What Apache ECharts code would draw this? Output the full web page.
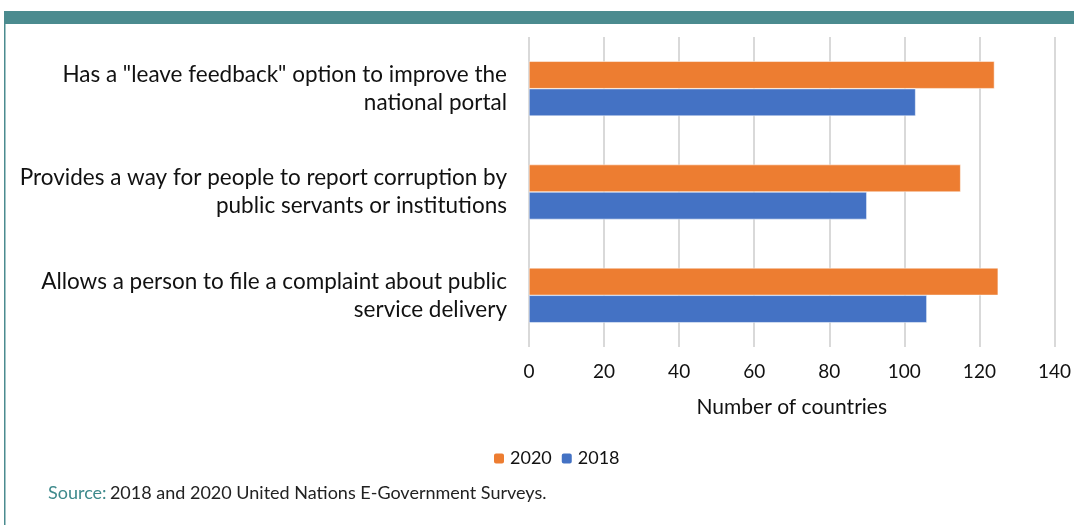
<!DOCTYPE html>
<html style="height: 100%">
<head>
	<title></title>
	<script type="text/javascript" src="https://cdn.jsdelivr.net/npm/echarts@6/dist/echarts.min.js"></script>
</head>
<body style="height: 100%; margin: 0; background: #fff">
<div id="container" style="width: 1074px; height: 525px"></div>
<script type="text/javascript">
	// bottom to top, as echarts draws a category y axis
	var categories = [
		'Allows a person to file a complaint about public\nservice delivery',
		'Provides a way for people to report corruption by\npublic servants or institutions',
		'Has a "leave feedback" option to improve the\nnational portal'
	];
	var values2018 = [106, 90, 103];
	var values2020 = [125, 115, 124];
	var xTicks = [0, 140, 20];   // min, max, step

	var font = 'Lato, "Open Sans", sans-serif';
	var dom = document.getElementById("container");
	var myChart = echarts.init(dom);
	var option = {
		animation: false,
		textStyle: { fontFamily: font },
		graphic: [
			{ type: 'rect', left: 4, top: 11, shape: { width: 1070, height: 13 }, style: { fill: '#4b8b8f' } },
			{ type: 'rect', left: 4, top: 11, shape: { width: 1.5, height: 514 }, style: { fill: '#4b8b8f' } },
			{
				type: 'text', left: 48, top: 480,
				style: {
					rich: {
						s: { fill: '#3e8a8c', fontSize: 18, fontFamily: font },
						t: { fill: '#222', fontSize: 18, fontFamily: font }
					},
					text: '{s|Source:} {t|2018 and 2020 United Nations E-Government Surveys.}'
				}
			}
		],
		legend: {
			top: 440,
			left: 487,
			data: ['2020', '2018'],
			itemWidth: 12,
			itemHeight: 12,
			itemGap: 8,
			textStyle: { fontSize: 18, color: '#111', fontFamily: font }
		},
		grid: { left: 529, right: 17, top: 37, bottom: 178 },
		xAxis: {
			type: 'value',
			min: xTicks[0],
			max: xTicks[1],
			interval: xTicks[2],
			name: 'Number of countries',
			nameLocation: 'middle',
			nameGap: 26,
			nameTextStyle: { fontSize: 21, color: '#111', fontFamily: font },
			axisLine: { show: false },
			axisTick: { show: false },
			axisLabel: { fontSize: 19, color: '#111', margin: 11 },
			splitLine: { lineStyle: { color: '#d9d9d9', width: 2 } }
		},
		yAxis: {
			type: 'category',
			data: categories,
			axisLine: { show: false },
			axisTick: { show: false },
			axisLabel: { fontSize: 22.5, color: '#111', lineHeight: 28, margin: 22, align: 'right' }
		},
		series: [
			{
				name: '2020', type: 'bar', data: values2020,
				barGap: '0%', barCategoryGap: '47%',
				itemStyle: { color: '#ed7d31', borderColor: '#fff', borderWidth: 0.5 }
			},
			{
				name: '2018', type: 'bar', data: values2018,
				barGap: '0%', barCategoryGap: '47%',
				itemStyle: { color: '#4472c4', borderColor: '#fff', borderWidth: 0.5 }
			}
		]
	};
	myChart.setOption(option);
</script>
</body>
</html>
